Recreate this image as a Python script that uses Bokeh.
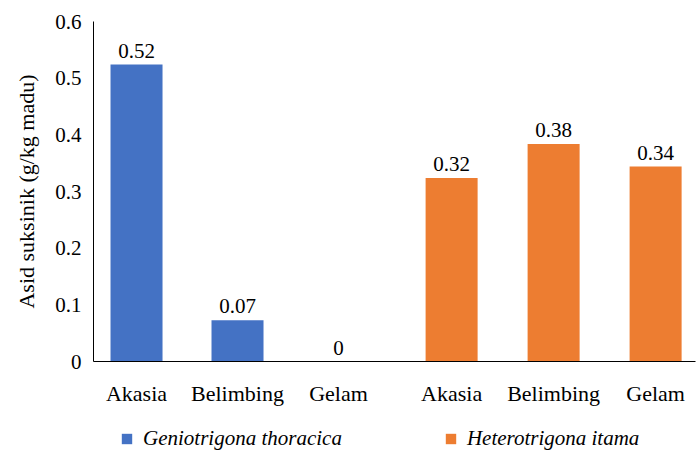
from bokeh.plotting import figure
from bokeh.models import Range1d, FixedTicker, Legend, LegendItem, ColumnDataSource
from bokeh.layouts import column
from bokeh.core.properties import value
from bokeh.embed import file_html
from bokeh.resources import INLINE

# ---- data ----
categories = ["Akasia", "Belimbing", "Gelam", "Akasia", "Belimbing", "Gelam"]
positions = [0.0, 1.0, 2.0, 3.12, 4.13, 5.14]
g_thoracica = [0.524, 0.073, 0.0]
h_itama = [0.324, 0.384, 0.344]
g_labels = ["0.52", "0.07", "0"]
h_labels = ["0.32", "0.38", "0.34"]
series_names = ["Geniotrigona thoracica", "Heterotrigona itama"]
colors = ["#4472C4", "#ED7D31"]
yticks = [0.0, 0.1, 0.2, 0.3, 0.4, 0.5, 0.6]
ytick_labels = ["0", "0.1", "0.2", "0.3", "0.4", "0.5", "0.6"]
y_title = "Asid suksinik (g/kg madu)"

FONT = "Liberation Serif"
FS = "21px"
FS_CAT = "22px"

p = figure(width=698, height=410, output_backend="svg", toolbar_location=None,
           x_range=Range1d(-0.426, 5.535), y_range=Range1d(0, 0.6),
           min_border_left=93, min_border_right=3, min_border_top=21, min_border_bottom=49)
p.outline_line_color = None
p.xgrid.visible = False
p.ygrid.visible = False

src_g = ColumnDataSource(dict(x=positions[:3], top=g_thoracica, lab=g_labels))
src_h = ColumnDataSource(dict(x=positions[3:], top=h_itama, lab=h_labels))

r_g = p.vbar(x="x", top="top", width=0.515, bottom=0, color=colors[0], line_color=None, source=src_g)
r_h = p.vbar(x="x", top="top", width=0.515, bottom=0, color=colors[1], line_color=None, source=src_h)

for src in (src_g, src_h):
    p.text(x="x", y="top", text="lab", source=src, text_align="center", text_baseline="bottom",
           y_offset=-7, text_font_size=value(FS), text_color="#000000", text_font=value(FONT))

# x axis
p.xaxis.ticker = FixedTicker(ticks=positions)
p.xaxis.major_label_overrides = {pos: c for pos, c in zip(positions, categories)}
p.xaxis.major_tick_line_color = None
p.xaxis.minor_tick_line_color = None
p.xaxis.major_tick_out = 0
p.xaxis.major_tick_in = 0
p.xaxis.major_label_standoff = 19
p.xaxis.axis_line_color = "#000000"
p.xaxis.major_label_text_font = FONT
p.xaxis.major_label_text_font_size = FS_CAT
p.xaxis.major_label_text_color = "#000000"

# y axis
p.yaxis.ticker = FixedTicker(ticks=yticks)
p.yaxis.major_label_overrides = {t: l for t, l in zip(yticks, ytick_labels)}
p.yaxis.major_tick_line_color = None
p.yaxis.minor_tick_line_color = None
p.yaxis.major_tick_out = 0
p.yaxis.major_tick_in = 0
p.yaxis.major_label_standoff = 12
p.yaxis.axis_line_color = "#000000"
p.yaxis.major_label_text_font = FONT
p.yaxis.major_label_text_font_size = FS
p.yaxis.major_label_text_color = "#000000"
p.yaxis.axis_label = y_title
p.yaxis.axis_label_text_font = FONT
p.yaxis.axis_label_text_font_size = "22px"
p.yaxis.axis_label_text_font_style = "normal"
p.yaxis.axis_label_text_color = "#000000"
p.yaxis.axis_label_standoff = 13

# legend strip below the chart (its frame is aligned with the chart frame)
pl = figure(width=698, height=41, output_backend="svg", toolbar_location=None,
            x_range=Range1d(0, 1), y_range=Range1d(0, 1),
            x_axis_location=None, y_axis_location=None, min_border=0)
pl.outline_line_color = None
pl.grid.visible = False
lg_src = ColumnDataSource(dict(x=[0.5], top=[0.0]))
lr_g = pl.vbar(x="x", top="top", bottom=0, width=0.1, color=colors[0], line_color=None, source=lg_src)
lr_h = pl.vbar(x="x", top="top", bottom=0, width=0.1, color=colors[1], line_color=None, source=lg_src)

legend = Legend(items=[LegendItem(label=series_names[0], renderers=[lr_g]),
                       LegendItem(label=series_names[1], renderers=[lr_h])],
                orientation="horizontal", location=(27, 0),
                glyph_width=13, glyph_height=13, label_standoff=10, spacing=102,
                label_text_font=FONT, label_text_font_size=FS, label_text_font_style="italic",
                label_text_color="#000000", border_line_color=None, background_fill_alpha=0,
                padding=2, margin=0)
pl.add_layout(legend, "center")

layout = column(p, pl, spacing=0)
open("out.html", "w").write(file_html(layout, INLINE))
